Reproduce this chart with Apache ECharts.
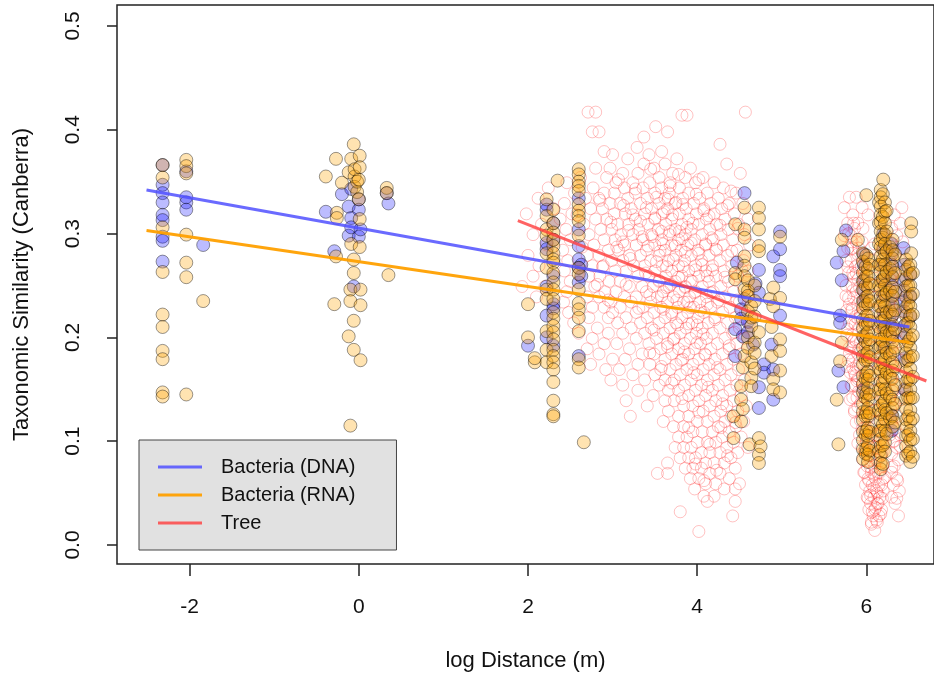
<!DOCTYPE html>
<html>
<head>
<meta charset="utf-8">
<script src="https://cdn.jsdelivr.net/npm/echarts@6/dist/echarts.min.js"></script>
<style>
  html, body { margin: 0; padding: 0; background: #fff; }
  #main { width: 934px; height: 677px; }
</style>
</head>
<body>
<div id="main"></div>
<script>
// axis ticks
var xTicks = [-2, 0, 2, 4, 6];
var yTicks = [0, 0.1, 0.2, 0.3, 0.4, 0.5];

// Bacteria (DNA) points: [x, [y, y, ...]], one column of points each
var dnaCols = [
    [-2.32, [0.366, 0.347, 0.339, 0.330, 0.318, 0.313, 0.297, 0.293, 0.273]],
    [-2.04, [0.360, 0.335, 0.330, 0.323]],
    [-1.84, [0.289]],
    [-0.39, [0.321]], [-0.29, [0.283]], [-0.2, [0.338]], [-0.12, [0.326, 0.298]],
    [-0.09, [0.343, 0.315, 0.306]], [-0.06, [0.249]], [0.0, [0.333, 0.323, 0.297]],
    [0.02, [0.304]], [0.33, [0.339]], [0.35, [0.329]],
    [2.0, [0.192]],
    [2.22, [0.328, 0.323, 0.291, 0.285, 0.249, 0.221, 0.2]],
    [2.3, [0.31, 0.294, 0.259, 0.232, 0.228, 0.192]],
    [2.6, [0.334, 0.304, 0.288, 0.275, 0.267, 0.253, 0.182]],
    [2.63, [0.27, 0.259]],
    [4.45, [0.208, 0.182]], [4.47, [0.272]], [4.52, [0.227, 0.218]], [4.54, [0.201]],
    [4.56, [0.339, 0.237]], [4.6, [0.215, 0.205]], [4.66, [0.193]], [4.69, [0.252]],
    [4.73, [0.265, 0.243, 0.152, 0.132]], [4.79, [0.174, 0.166]], [4.88, [0.193]],
    [4.9, [0.278, 0.169, 0.14]], [4.98, [0.302, 0.285, 0.265, 0.259, 0.221]],
    [5.65, [0.272]], [5.67, [0.168]], [5.69, [0.221, 0.214]], [5.71, [0.255]],
    [5.73, [0.283, 0.152]], [5.76, [0.303]],
    [5.97, [0.28, 0.27, 0.255, 0.245, 0.235, 0.2, 0.15]],
    [6.2, [0.30, 0.285, 0.27, 0.255, 0.24, 0.225, 0.21, 0.19]],
    [6.3, [0.29, 0.28, 0.27, 0.26, 0.25, 0.24, 0.23, 0.22, 0.21, 0.2, 0.125, 0.11]],
    [6.44, [0.286]],
    [6.45, [0.27, 0.255, 0.245, 0.235, 0.225, 0.211, 0.2, 0.18, 0.15]],
    [6.52, [0.26, 0.24, 0.22]]
];

// Bacteria (RNA) points
var rnaCols = [
    [-2.32, [0.366, 0.354, 0.306, 0.263, 0.222, 0.210, 0.187, 0.179, 0.147, 0.143]],
    [-2.04, [0.371, 0.365, 0.358, 0.299, 0.272, 0.258, 0.145]],
    [-1.84, [0.235]],
    [-0.39, [0.355]], [-0.29, [0.232]], [-0.27, [0.372, 0.278]], [-0.26, [0.32, 0.315]],
    [-0.2, [0.349]], [-0.12, [0.359, 0.201]], [-0.1, [0.246, 0.235, 0.115]],
    [-0.09, [0.372, 0.29]], [-0.06, [0.386, 0.275, 0.262, 0.216, 0.188]],
    [-0.05, [0.355, 0.362, 0.345]], [-0.02, [0.34, 0.35]], [0.0, [0.352, 0.333]],
    [0.01, [0.375, 0.364, 0.314, 0.287]], [0.02, [0.246, 0.231, 0.178]],
    [0.33, [0.344, 0.339]], [0.35, [0.26]],
    [2.0, [0.232, 0.2]], [2.08, [0.176, 0.18]],
    [2.22, [0.333, 0.317, 0.304, 0.298, 0.281, 0.267, 0.246, 0.237, 0.206, 0.188, 0.176]],
    [2.3, [0.323, 0.31, 0.301, 0.294, 0.288, 0.281, 0.275, 0.272, 0.262, 0.253, 0.246, 0.237,
           0.224, 0.218, 0.211, 0.205, 0.198, 0.188, 0.182, 0.176, 0.169, 0.157, 0.139, 0.126, 0.124]],
    [2.35, [0.351]],
    [2.6, [0.362, 0.357, 0.35, 0.346, 0.341, 0.328, 0.322, 0.317, 0.312, 0.298, 0.267, 0.261,
           0.246, 0.233, 0.227, 0.219, 0.206, 0.179, 0.171]],
    [2.66, [0.099]],
    [4.43, [0.124, 0.103]], [4.45, [0.309, 0.262, 0.256]], [4.52, [0.153, 0.14, 0.119]],
    [4.54, [0.171, 0.131]], [4.56, [0.325, 0.304, 0.296, 0.278, 0.269, 0.259, 0.246, 0.182]],
    [4.6, [0.255, 0.245, 0.24, 0.225, 0.2, 0.19]], [4.62, [0.097]],
    [4.64, [0.23, 0.219, 0.211, 0.176, 0.161, 0.153]],
    [4.68, [0.25, 0.235, 0.22, 0.195, 0.185, 0.17]],
    [4.73, [0.325, 0.315, 0.304, 0.288, 0.283, 0.205, 0.103, 0.087, 0.079]], [4.75, [0.095]],
    [4.86, [0.237]], [4.88, [0.21, 0.182]], [4.9, [0.248, 0.23, 0.16, 0.15]],
    [4.98, [0.297, 0.238, 0.198, 0.187, 0.168, 0.147]],
    [5.65, [0.14]], [5.67, [0.097]], [5.69, [0.177]], [5.71, [0.294, 0.195]], [5.9, [0.294]],
    [5.96, [0.281, 0.273, 0.262, 0.254, 0.246, 0.235, 0.228, 0.217, 0.209, 0.201, 0.19, 0.182,
            0.174, 0.163, 0.155, 0.147, 0.136, 0.128, 0.12, 0.109, 0.101, 0.092, 0.083]],
    [5.99, [0.268, 0.25, 0.231, 0.213, 0.196, 0.178, 0.16, 0.142, 0.124, 0.106, 0.088]],
    [6.0, [0.337, 0.279, 0.259, 0.239, 0.221, 0.203, 0.184, 0.165, 0.146, 0.128, 0.11, 0.093]],
    [6.02, [0.276, 0.266, 0.259, 0.248, 0.24, 0.232, 0.221, 0.213, 0.205, 0.194, 0.186, 0.178,
            0.167, 0.159, 0.151, 0.14, 0.132, 0.124, 0.113, 0.105, 0.096, 0.087, 0.08]],
    [6.04, [0.27, 0.252, 0.235, 0.216, 0.198, 0.181, 0.163, 0.145, 0.127, 0.109, 0.091]],
    [6.15, [0.33, 0.31, 0.29, 0.27, 0.25, 0.23, 0.21, 0.19, 0.17, 0.15, 0.13, 0.11, 0.09]],
    [6.17, [0.342, 0.335, 0.326, 0.318, 0.311, 0.302, 0.294, 0.287, 0.278, 0.27, 0.263, 0.254,
            0.246, 0.239, 0.23, 0.222, 0.215, 0.206, 0.198, 0.191, 0.182, 0.174, 0.167, 0.158,
            0.15, 0.143, 0.134, 0.126, 0.119, 0.11, 0.102, 0.095, 0.086, 0.079, 0.073]],
    [6.195, [0.338, 0.316, 0.296, 0.275, 0.256, 0.235, 0.216, 0.196, 0.176, 0.156, 0.136, 0.116, 0.096, 0.078]],
    [6.2, [0.352]],
    [6.22, [0.33, 0.321, 0.31, 0.299, 0.29, 0.281, 0.27, 0.259, 0.25, 0.241, 0.23, 0.219, 0.21,
            0.201, 0.19, 0.179, 0.17, 0.161, 0.15, 0.139, 0.13, 0.121, 0.11, 0.099, 0.09]],
    [6.24, [0.322, 0.302, 0.283, 0.263, 0.243, 0.224, 0.205, 0.185, 0.166, 0.146, 0.127, 0.107]],
    [6.28, [0.287, 0.266, 0.245, 0.225, 0.204, 0.183, 0.163, 0.143, 0.122]],
    [6.31, [0.294, 0.284, 0.276, 0.268, 0.258, 0.248, 0.24, 0.232, 0.222, 0.212, 0.204, 0.196,
            0.186, 0.176, 0.168, 0.16, 0.15, 0.14, 0.132, 0.124, 0.114]],
    [6.34, [0.28, 0.262, 0.244, 0.226, 0.208, 0.19, 0.172, 0.154, 0.136, 0.118]],
    [6.47, [0.275, 0.265, 0.257, 0.249, 0.239, 0.229, 0.221, 0.213, 0.203, 0.193, 0.185, 0.177,
            0.167, 0.157, 0.149, 0.141, 0.131, 0.121, 0.113, 0.105, 0.095, 0.086]],
    [6.495, [0.268, 0.25, 0.232, 0.214, 0.196, 0.178, 0.16, 0.142, 0.124, 0.106, 0.088]],
    [6.52, [0.27, 0.261, 0.25, 0.239, 0.23, 0.221, 0.21, 0.199, 0.19, 0.181, 0.17, 0.159, 0.15,
            0.141, 0.13, 0.119, 0.11, 0.101, 0.09, 0.08]],
    [6.53, [0.31, 0.302, 0.281]],
    [6.55, [0.262, 0.242, 0.222, 0.202, 0.182, 0.162, 0.142, 0.122, 0.102, 0.085]]
];

// Tree points between 2 and 5: [y, [x, x, ...]], one row of points each
var treeRowsMid = [
    [0.417, [2.71, 2.8, 4.57]], [0.414, [3.82, 3.88]], [0.403, [3.51]],
    [0.398, [2.76, 2.84, 3.65]], [0.393, [3.37]], [0.386, [4.27]], [0.383, [3.29]],
    [0.379, [2.9, 3.58]], [0.376, [3.0, 3.43]], [0.372, [3.76, 3.18]],
    [0.367, [3.37, 4.35, 3.62]], [0.363, [2.8, 2.97, 3.49, 3.92]],
    [0.358, [4.51, 3.12, 3.71, 3.3]], [0.354, [2.62, 2.93, 3.55, 3.86, 4.07]],
    [0.349, [2.46, 3.04, 3.24, 3.44, 3.68, 3.98, 4.2]],
    [0.344, [2.24, 2.77, 3.14, 3.36, 3.58, 3.79, 4.31]],
    [0.339, [2.55, 2.9, 3.02, 3.27, 3.5, 3.67, 3.9, 4.12, 4.46]],
    [0.334, [2.12, 2.68, 2.84, 3.18, 3.41, 3.62, 3.83, 4.03, 4.25]],
    [0.329, [2.43, 2.97, 3.09, 3.33, 3.55, 3.74, 3.96, 4.16, 4.38, 4.54]],
    [0.324, [2.3, 2.74, 2.88, 3.22, 3.46, 3.65, 3.87, 4.08, 4.29]],
    [0.319, [1.98, 2.52, 3.02, 3.15, 3.38, 3.59, 3.79, 3.99, 4.2, 4.44]],
    [0.314, [2.38, 2.8, 2.93, 3.27, 3.5, 3.7, 3.9, 4.11, 4.33, 4.6]],
    [0.309, [2.16, 2.66, 3.06, 3.19, 3.42, 3.63, 3.82, 4.02, 4.23, 4.49]],
    [0.304, [2.45, 2.86, 2.99, 3.31, 3.54, 3.74, 3.93, 4.15, 4.37]],
    [0.299, [2.06, 2.72, 3.1, 3.24, 3.46, 3.67, 3.86, 4.06, 4.28, 4.56]],
    [0.294, [2.5, 2.9, 3.03, 3.36, 3.58, 3.78, 3.97, 4.19, 4.42]],
    [0.289, [2.22, 2.78, 3.14, 3.28, 3.5, 3.7, 3.89, 4.1, 4.31, 4.62]],
    [0.284, [2.41, 2.95, 3.07, 3.4, 3.62, 3.81, 4.01, 4.23, 4.47]],
    [0.279, [2.0, 2.7, 2.84, 3.2, 3.33, 3.55, 3.75, 3.93, 4.14, 4.36]],
    [0.274, [2.47, 2.99, 3.12, 3.45, 3.66, 3.85, 4.05, 4.27, 4.55]],
    [0.269, [2.13, 2.76, 2.89, 3.25, 3.38, 3.59, 3.78, 3.98, 4.18, 4.41]],
    [0.264, [2.43, 3.03, 3.16, 3.5, 3.7, 3.9, 4.1, 4.32, 4.6]],
    [0.259, [2.06, 2.72, 2.85, 3.3, 3.43, 3.63, 3.82, 4.02, 4.22, 4.48]],
    [0.254, [2.5, 2.96, 3.09, 3.55, 3.74, 3.94, 4.14, 4.37]],
    [0.249, [1.93, 2.2, 2.79, 3.2, 3.35, 3.48, 3.67, 3.86, 4.06, 4.28, 4.55]],
    [0.244, [2.46, 2.91, 3.04, 3.4, 3.6, 3.79, 3.98, 4.19, 4.43]],
    [0.239, [2.1, 2.7, 2.84, 3.14, 3.28, 3.53, 3.72, 3.91, 4.11, 4.33, 4.6]],
    [0.234, [2.42, 2.98, 3.22, 3.45, 3.65, 3.84, 4.03, 4.24, 4.5]],
    [0.229, [2.76, 2.9, 3.09, 3.36, 3.57, 3.77, 3.96, 4.16, 4.39]],
    [0.224, [2.48, 3.0, 3.28, 3.49, 3.7, 3.89, 4.08, 4.3, 4.57]],
    [0.219, [2.72, 2.95, 3.16, 3.41, 3.62, 3.82, 4.01, 4.21, 4.45]],
    [0.214, [2.54, 3.06, 3.33, 3.55, 3.75, 3.94, 4.13, 4.36, 4.62]],
    [0.209, [2.82, 3.22, 3.46, 3.68, 3.87, 4.06, 4.27, 4.5]],
    [0.204, [2.6, 2.95, 3.12, 3.38, 3.6, 3.8, 3.99, 4.18, 4.42]],
    [0.199, [2.76, 3.28, 3.52, 3.73, 3.92, 4.11, 4.33, 4.56]],
    [0.194, [2.9, 3.05, 3.43, 3.65, 3.85, 4.04, 4.24, 4.47]],
    [0.189, [2.7, 3.2, 3.57, 3.78, 3.97, 4.16, 4.38]],
    [0.184, [2.84, 3.35, 3.49, 3.7, 3.9, 4.09, 4.3, 4.52]],
    [0.179, [3.0, 3.15, 3.62, 3.83, 4.02, 4.21, 4.43]],
    [0.174, [2.74, 3.3, 3.44, 3.75, 3.95, 4.14, 4.35]],
    [0.169, [2.92, 3.08, 3.57, 3.68, 3.88, 4.07, 4.27, 4.49]],
    [0.164, [3.24, 3.5, 3.8, 4.0, 4.2, 4.4]],
    [0.159, [2.98, 3.38, 3.62, 3.73, 3.93, 4.12, 4.33, 4.56]],
    [0.154, [3.12, 3.55, 3.85, 4.05, 4.25, 4.47]],
    [0.149, [3.3, 3.66, 3.78, 3.98, 4.18, 4.39]],
    [0.144, [3.48, 3.9, 4.1, 4.3, 4.52]],
    [0.139, [3.16, 3.62, 3.73, 4.02, 4.22, 4.43]],
    [0.134, [3.41, 3.84, 3.95, 4.15, 4.35, 4.58]],
    [0.129, [3.66, 4.07, 4.28, 4.48]],
    [0.124, [3.21, 3.78, 3.9, 4.2, 4.4]],
    [0.119, [3.6, 4.0, 4.12, 4.33, 4.55]],
    [0.114, [3.72, 3.84, 4.25, 4.46]],
    [0.109, [3.95, 4.06, 4.18, 4.38]],
    [0.104, [3.78, 3.88, 4.3, 4.52]],
    [0.099, [4.0, 4.12, 4.22, 4.43]],
    [0.094, [3.74, 3.84, 3.93, 4.35, 4.6]],
    [0.089, [4.05, 4.15, 4.27, 4.48]],
    [0.084, [3.8, 3.9, 3.98, 4.4]],
    [0.079, [3.65, 4.1, 4.2, 4.32]],
    [0.074, [3.86, 3.95, 4.05, 4.45]],
    [0.069, [3.53, 3.65, 4.15, 4.27]],
    [0.064, [3.92, 4.02, 4.38]],
    [0.059, [4.1, 4.22, 4.5]],
    [0.054, [3.97, 4.32, 4.45]],
    [0.047, [4.08, 4.2]], [0.042, [4.12, 4.45]],
    [0.032, [3.8]], [0.028, [4.42]], [0.013, [4.02]]
];

// Tree points near 6
var treeRowsFar = [
    [0.335, [5.8, 5.88]], [0.325, [5.74, 5.95, 6.42]], [0.318, [5.84, 6.02, 6.33]],
    [0.31, [5.78, 5.9, 6.4]], [0.305, [5.86, 5.96, 6.3]], [0.298, [5.74, 5.82, 6.36]],
    [0.292, [5.88, 5.95, 6.28, 6.43]], [0.286, [5.78, 5.84, 6.06]], [0.28, [5.9, 5.97, 6.34]],
    [0.274, [5.76, 5.82, 6.28, 6.4]], [0.268, [5.87, 5.94, 6.1]], [0.262, [5.79, 5.84, 6.32]],
    [0.256, [5.9, 5.98, 6.28, 6.42]], [0.25, [5.76, 5.83, 6.08]], [0.244, [5.88, 5.94, 6.35]],
    [0.238, [5.79, 5.85, 6.1, 6.29]], [0.232, [5.9, 5.96, 6.4]], [0.226, [5.77, 5.83, 6.09, 6.32]],
    [0.22, [5.87, 5.93, 6.28]], [0.214, [5.8, 5.85, 6.1, 6.42]], [0.208, [5.9, 5.96, 6.33]],
    [0.202, [5.77, 5.83, 6.08, 6.28]], [0.196, [5.88, 5.93, 6.38]], [0.19, [5.8, 5.85, 6.1, 6.3]],
    [0.184, [5.9, 5.97, 6.34]], [0.178, [5.79, 5.84, 6.08, 6.28, 6.42]], [0.172, [5.88, 5.93, 6.32]],
    [0.166, [5.81, 5.86, 6.1, 6.38]], [0.16, [5.9, 5.96, 6.29]], [0.154, [5.82, 5.87, 6.08, 6.35]],
    [0.148, [5.91, 6.1, 6.31]], [0.142, [5.84, 5.89, 6.28, 6.4]], [0.136, [5.93, 6.08, 6.33]],
    [0.13, [5.86, 6.1, 6.29]], [0.124, [5.95, 6.04, 6.37]], [0.118, [5.88, 6.1, 6.3]],
    [0.112, [5.97, 6.06, 6.34]], [0.106, [5.92, 6.12, 6.28, 6.4]], [0.1, [6.0, 6.08, 6.16, 6.32]],
    [0.094, [5.95, 6.04, 6.12, 6.36]], [0.088, [6.0, 6.09, 6.18, 6.3]], [0.082, [5.96, 6.05, 6.13, 6.38]],
    [0.076, [6.01, 6.1, 6.19, 6.33]], [0.07, [5.98, 6.06, 6.14, 6.3]], [0.064, [6.02, 6.11, 6.2, 6.36]],
    [0.058, [5.99, 6.07, 6.15, 6.32]], [0.052, [6.04, 6.12, 6.2, 6.39]], [0.046, [6.01, 6.09, 6.16, 6.3]],
    [0.04, [6.05, 6.13, 6.34]], [0.034, [6.03, 6.1, 6.18]], [0.028, [6.08, 6.15, 6.38]],
    [0.022, [6.06, 6.13]], [0.014, [6.1]]
];

// extra tree points where the cloud is densest: [x, y]
var treeExtra = [
    [3.33, 0.312], [3.47, 0.297], [3.61, 0.321], [3.74, 0.288], [3.88, 0.306], [4.02, 0.281],
    [4.17, 0.296], [3.21, 0.276], [3.39, 0.262], [3.56, 0.283], [3.69, 0.251], [3.83, 0.268],
    [3.97, 0.243], [4.12, 0.259], [4.26, 0.236], [3.44, 0.241], [3.6, 0.227], [3.77, 0.212],
    [3.92, 0.229], [4.07, 0.203], [4.21, 0.217], [3.52, 0.335], [3.68, 0.346], [3.83, 0.328],
    [3.99, 0.338], [4.14, 0.317], [3.27, 0.343], [3.13, 0.327], [2.98, 0.311], [3.05, 0.287],
    [2.88, 0.268], [3.16, 0.251], [3.31, 0.228], [3.49, 0.207], [3.65, 0.191], [3.81, 0.178],
    [3.96, 0.166], [4.1, 0.183], [4.24, 0.171], [4.38, 0.192], [4.33, 0.258], [4.41, 0.283],
    [4.27, 0.308], [4.36, 0.327], [3.58, 0.302], [3.71, 0.318], [3.42, 0.288], [3.64, 0.268],
    [3.86, 0.248], [4.04, 0.226], [3.93, 0.291], [3.79, 0.302], [3.55, 0.255], [3.35, 0.297],
    [3.19, 0.303], [3.76, 0.236], [3.9, 0.213], [4.16, 0.243], [3.12, 0.292], [3.24, 0.318],
    [3.66, 0.333], [4.08, 0.322], [4.22, 0.285], [3.72, 0.198], [3.85, 0.186], [4.0, 0.195],
    [4.13, 0.152], [4.02, 0.128], [3.9, 0.113], [4.15, 0.097], [4.28, 0.113], [3.98, 0.078],
    [4.08, 0.062], [4.23, 0.072], [4.36, 0.086], [3.82, 0.141], [3.7, 0.156], [4.3, 0.136],
    [4.45, 0.118], [3.58, 0.172], [3.44, 0.185], [2.95, 0.236], [2.82, 0.251], [2.64, 0.287],
    [2.58, 0.318], [2.85, 0.332], [3.07, 0.352], [3.45, 0.362], [3.78, 0.357], [4.02, 0.352],
    [4.4, 0.341], [4.48, 0.305], [4.53, 0.265], [4.47, 0.236], [4.44, 0.205],
    [3.6, 0.29], [3.72, 0.275], [3.86, 0.282], [3.98, 0.265], [3.68, 0.302], [3.82, 0.295],
    [3.95, 0.31], [3.52, 0.273], [3.64, 0.248], [3.78, 0.258], [3.92, 0.255], [4.06, 0.27],
    [4.1, 0.29], [3.5, 0.315], [3.4, 0.325], [3.75, 0.33], [4.18, 0.265], [3.88, 0.234],
    [4.0, 0.212], [3.7, 0.222], [4.12, 0.232], [3.58, 0.24],
    [5.85, 0.31], [5.9, 0.27], [5.84, 0.245], [5.93, 0.223], [5.86, 0.198], [5.92, 0.176],
    [5.83, 0.153], [5.9, 0.133], [5.95, 0.112], [5.82, 0.285], [5.88, 0.262], [5.8, 0.232],
    [5.87, 0.213], [5.8, 0.185], [5.87, 0.163], [5.96, 0.143], [5.98, 0.092], [6.05, 0.075],
    [6.09, 0.055], [6.14, 0.04], [6.07, 0.032], [6.12, 0.024], [6.03, 0.062], [6.18, 0.058],
    [6.11, 0.082], [6.06, 0.105], [6.1, 0.13], [6.08, 0.16], [6.1, 0.19], [6.09, 0.22],
    [6.1, 0.25], [6.08, 0.274], [6.3, 0.255], [6.35, 0.205], [6.3, 0.16], [6.33, 0.1],
    [6.37, 0.062], [6.3, 0.075], [6.36, 0.045], [6.4, 0.095], [6.29, 0.12], [6.41, 0.14],
    [6.28, 0.185], [6.4, 0.23],
    [5.79, 0.3], [5.83, 0.292], [5.91, 0.286], [5.78, 0.268], [5.85, 0.258], [5.92, 0.248],
    [5.76, 0.24], [5.83, 0.228], [5.9, 0.218], [5.78, 0.208], [5.84, 0.196], [5.91, 0.188],
    [5.77, 0.172], [5.84, 0.17], [5.89, 0.158], [5.81, 0.14], [5.86, 0.128], [5.93, 0.12],
    [5.9, 0.098], [5.97, 0.07], [6.02, 0.045], [6.06, 0.02], [6.11, 0.036], [6.16, 0.07],
    [6.2, 0.09], [6.14, 0.105], [6.0, 0.11], [6.04, 0.086], [6.09, 0.068], [6.13, 0.05],
    [6.17, 0.03], [6.05, 0.048], [6.19, 0.045], [6.22, 0.065], [6.08, 0.095], [6.12, 0.118],
    [6.07, 0.14], [6.11, 0.175], [6.07, 0.205], [6.11, 0.235], [6.07, 0.262], [6.1, 0.29]
];

// fitted lines (end points)
var dnaFitX = [-2.51, 6.51], dnaFitY = [0.342, 0.21];
var rnaFitX = [-2.51, 6.51], rnaFitY = [0.303, 0.195];
var treeFitX = [1.88, 6.71], treeFitY = [0.3125, 0.158];

var fromCols = function (cols) {
    var out = [];
    cols.forEach(function (c) {
        c[1].forEach(function (y) { out.push([c[0], y]); });
    });
    return out;
};
var fromRows = function (rows) {
    var out = [];
    rows.forEach(function (r) {
        r[1].forEach(function (x) { out.push([x, r[0]]); });
    });
    return out;
};
var zip = function (xs, ys) {
    return xs.map(function (x, i) { return [x, ys[i]]; });
};

var font = '"Liberation Sans", Arial, sans-serif';
var myChart = echarts.init(document.getElementById('main'));

var option = {
    animation: false,
    backgroundColor: '#fff',
    grid: {
        left: 117, top: 5, right: -4, bottom: 112,
        show: true, borderColor: '#222', borderWidth: 1.5, backgroundColor: 'transparent'
    },
    xAxis: {
        type: 'value',
        min: -2.859, max: 6.8,
        name: 'log Distance (m)',
        nameLocation: 'middle',
        nameGap: 86,
        nameTextStyle: { fontFamily: font, fontSize: 22, color: '#111' },
        axisLine: { show: false, onZero: false },
        splitLine: { show: false },
        axisTick: { show: true, length: 12, lineStyle: { color: '#222', width: 1.5 }, customValues: xTicks },
        axisLabel: { customValues: xTicks, margin: 33, fontFamily: font, fontSize: 21, color: '#111' }
    },
    yAxis: {
        type: 'value',
        min: -0.0183, max: 0.5202,
        name: 'Taxonomic Similarity (Canberra)',
        nameLocation: 'middle',
        nameGap: 84,
        nameRotate: 90,
        nameTextStyle: { fontFamily: font, fontSize: 22, color: '#111' },
        axisLine: { show: false, onZero: false },
        splitLine: { show: false },
        axisTick: { show: true, length: 10, lineStyle: { color: '#222', width: 1.5 }, customValues: yTicks },
        axisLabel: {
            customValues: yTicks, rotate: 90, margin: 33,
            fontFamily: font, fontSize: 21, color: '#111',
            formatter: function (v) { return v.toFixed(1); }
        }
    },
    legend: {
        orient: 'vertical',
        left: 139, top: 440,
        data: ['Bacteria (DNA)', 'Bacteria (RNA)', 'Tree'],
        icon: 'rect',
        itemWidth: 44, itemHeight: 3, itemGap: 8,
        padding: [17, 41, 17, 19],
        backgroundColor: '#e1e1e1',
        borderColor: '#444', borderWidth: 1, borderRadius: 0,
        selectedMode: false,
        textStyle: { fontFamily: font, fontSize: 20, color: '#111', padding: [0, 0, 0, 14], lineHeight: 20 }
    },
    series: [
        {
            name: 'tree points', type: 'scatter', symbol: 'circle', symbolSize: 12,
            data: fromRows(treeRowsMid).concat(fromRows(treeRowsFar), treeExtra),
            itemStyle: { color: 'rgba(255,0,0,0)', borderColor: 'rgba(255,0,0,0.3)', borderWidth: 1 },
            z: 2
        },
        {
            name: 'dna points', type: 'scatter', symbol: 'circle', symbolSize: 13,
            data: fromCols(dnaCols),
            itemStyle: { color: 'rgba(0,0,255,0.33)', borderColor: 'rgba(0,0,0,0.5)', borderWidth: 1 },
            z: 3
        },
        {
            name: 'rna points', type: 'scatter', symbol: 'circle', symbolSize: 13,
            data: fromCols(rnaCols),
            itemStyle: { color: 'rgba(255,165,0,0.38)', borderColor: 'rgba(0,0,0,0.5)', borderWidth: 1 },
            z: 3
        },
        {
            name: 'Bacteria (DNA)', type: 'line', showSymbol: false, symbol: 'none',
            data: zip(dnaFitX, dnaFitY),
            color: 'rgba(80,80,255,0.85)',
            lineStyle: { width: 3, color: 'rgba(80,80,255,0.85)' },
            z: 5
        },
        {
            name: 'Bacteria (RNA)', type: 'line', showSymbol: false, symbol: 'none',
            data: zip(rnaFitX, rnaFitY),
            color: 'rgba(255,160,0,0.95)',
            lineStyle: { width: 3, color: 'rgba(255,160,0,0.95)' },
            z: 5
        },
        {
            name: 'Tree', type: 'line', showSymbol: false, symbol: 'none',
            data: zip(treeFitX, treeFitY),
            color: 'rgba(255,60,60,0.8)',
            lineStyle: { width: 3, color: 'rgba(255,60,60,0.8)' },
            z: 5
        }
    ]
};

myChart.setOption(option);
</script>
</body>
</html>
